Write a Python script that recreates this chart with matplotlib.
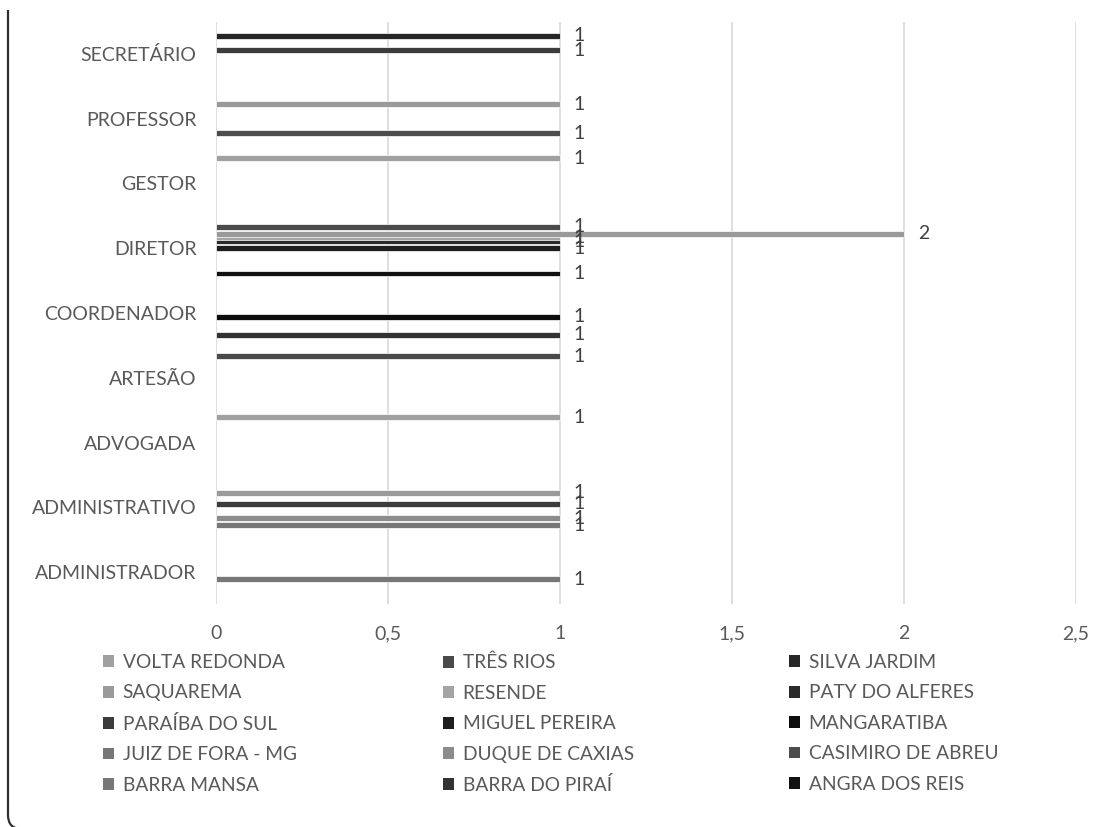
import matplotlib
matplotlib.use("Agg")
import matplotlib.pyplot as plt
import numpy as np
from matplotlib.patches import Patch, FancyBboxPatch
from matplotlib.transforms import IdentityTransform, Bbox

# ---------------------------------------------------------------------------
# Data (categories bottom -> top, series in chart order)
# ---------------------------------------------------------------------------
categories = ["ADMINISTRADOR", "ADMINISTRATIVO", "ADVOGADA", "ARTESÃO",
              "COORDENADOR", "DIRETOR", "GESTOR", "PROFESSOR", "SECRETÁRIO"]

cities = ["ANGRA DOS REIS", "BARRA DO PIRAÍ", "BARRA MANSA", "CASIMIRO DE ABREU",
          "DUQUE DE CAXIAS", "JUIZ DE FORA - MG", "MANGARATIBA", "MIGUEL PEREIRA",
          "PARAÍBA DO SUL", "PATY DO ALFERES", "RESENDE", "SAQUAREMA",
          "SILVA JARDIM", "TRÊS RIOS", "VOLTA REDONDA"]

# one row per city, one column per category (0 = empty cell)
values = [
    [0, 0, 0, 0, 0, 1, 0, 0, 0],  # ANGRA DOS REIS
    [0, 0, 0, 0, 1, 0, 0, 0, 0],  # BARRA DO PIRAÍ
    [0, 1, 0, 0, 0, 0, 0, 0, 0],  # BARRA MANSA
    [0, 0, 0, 0, 0, 0, 0, 1, 0],  # CASIMIRO DE ABREU
    [0, 1, 0, 0, 0, 0, 0, 0, 0],  # DUQUE DE CAXIAS
    [1, 0, 0, 0, 0, 0, 0, 0, 0],  # JUIZ DE FORA - MG
    [0, 0, 0, 0, 1, 0, 0, 0, 0],  # MANGARATIBA
    [0, 0, 0, 0, 0, 1, 0, 0, 0],  # MIGUEL PEREIRA
    [0, 1, 0, 0, 0, 0, 0, 0, 1],  # PARAÍBA DO SUL
    [0, 0, 0, 0, 0, 1, 0, 0, 0],  # PATY DO ALFERES
    [0, 0, 0, 0, 0, 1, 0, 0, 0],  # RESENDE
    [0, 1, 0, 0, 0, 2, 0, 1, 0],  # SAQUAREMA
    [0, 0, 0, 0, 0, 0, 0, 0, 1],  # SILVA JARDIM
    [0, 0, 0, 1, 0, 1, 0, 0, 0],  # TRÊS RIOS
    [0, 0, 1, 0, 0, 0, 1, 0, 0],  # VOLTA REDONDA
]

colors = ["#111111", "#333333", "#777777", "#4d4d4d", "#8c8c8c",
          "#777777", "#0d0d0d", "#1e1e1e", "#3c3c3c", "#2b2b2b",
          "#a5a5a5", "#9a9a9a", "#262626", "#4a4a4a", "#a0a0a0"]

xticks = [0, 0.5, 1, 1.5, 2, 2.5]
xtick_labels = ["0", "0,5", "1", "1,5", "2", "2,5"]

# ---------------------------------------------------------------------------
plt.rcParams["font.family"] = ["Lato", "DejaVu Sans"]
TEXT = "#595959"
FS = 14

fig = plt.figure(figsize=(11.02, 8.27), dpi=100)
ax = fig.add_axes([216 / 1102, 1 - 604.4 / 827, 860 / 1102, 582.8 / 827])

y = np.arange(len(categories))
step = 0.0556
height = 0.09
n = len(cities)

for k, (city, vals) in enumerate(zip(cities, values)):
    vals = np.array(vals, dtype=float)
    pos = y + (k - (n - 1) / 2) * step
    mask = vals > 0
    ax.barh(pos[mask], vals[mask], height=height, color=colors[k],
            edgecolor="white", linewidth=0.5, zorder=3)
    for p, v in zip(pos[mask], vals[mask]):
        ax.annotate(f"{v:g}", (v, p), xytext=(10, 0), textcoords="offset points",
                    ha="left", va="center", fontsize=FS, color="#404040", zorder=4)

ax.set_xlim(0, 2.5)
ax.set_ylim(-0.5, len(categories) - 0.5)
ax.set_xticks(xticks)
ax.set_xticklabels(xtick_labels)
ax.set_yticks(y)
ax.set_yticklabels(categories)
ax.tick_params(axis="both", length=0, labelsize=FS, labelcolor=TEXT)
ax.tick_params(axis="y", pad=14)
ax.tick_params(axis="x", pad=15)
ax.grid(axis="x", color="#d9d9d9", linewidth=1.2, zorder=0)
ax.grid(axis="y", visible=False)
for s in ax.spines.values():
    s.set_visible(False)

# legend: three columns, rows filled left to right in reverse series order
rev = list(range(n))[::-1]
col_x = [103, 443, 789]
for c in range(3):
    idx = [rev[3 * r + c] for r in range(5)]
    handles = [Patch(facecolor=colors[i], edgecolor="none") for i in idx]
    fig.legend(handles, [cities[i] for i in idx], loc="upper left",
               bbox_to_anchor=(col_x[c] / 1102, 1 - 654 / 827),
               frameon=False, fontsize=13.8, labelcolor=TEXT,
               handlelength=0.58, handleheight=0.58, handletextpad=0.45,
               labelspacing=0.7, borderpad=0, borderaxespad=0)

# chart-area border (only left side and bottom-left corner in view)
frame = FancyBboxPatch((8, -2), 3000, 3000, boxstyle="round,pad=0,rounding_size=14",
                       transform=IdentityTransform(), fill=False,
                       edgecolor="#303030", linewidth=1.6)
frame.set_clip_box(Bbox.from_extents(0, 0, 1102, 817))
fig.patches.append(frame)

fig.savefig("out.png", dpi=100)
